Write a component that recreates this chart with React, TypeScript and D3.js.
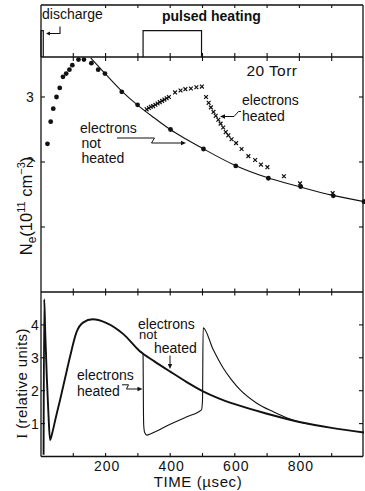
import React from 'react';
import * as d3 from 'd3';

// ---- data ----
const TIME_TICKS = [100, 200, 300, 400, 500, 600, 700, 800, 900];
const TIME_LABELS = [200, 400, 600, 800];
const TOP_BORDER_TICKS = [200, 300, 400, 500, 600, 700, 800, 900];
const NE_TICKS = [1, 2, 3];
const NE_LABELS = [2, 3];
const I_TICKS = [1, 2, 3, 4];

// timing diagram (time in µs, level 0/1)
const DISCHARGE_PULSE: [number, number][] = [[0, 0], [0, 1], [7, 1], [7, 0]];
const HEATING_PULSE: [number, number][] = [[316, 0], [316, 1], [497, 1], [497, 0]];

// Ne (1e11 cm^-3), electrons not heated (dots)
const NE_NOT_HEATED_DOTS: [number, number][] = [
  [20, 2.28], [30, 2.62], [38, 2.82], [48, 3.0], [58, 3.14], [68, 3.31], [78, 3.36],
  [88, 3.42], [97, 3.49], [116, 3.575], [133, 3.575], [156, 3.52], [177, 3.42],
  [198, 3.36], [250, 3.08], [299, 2.88], [401, 2.5], [503, 2.2], [603, 1.94],
  [704, 1.75], [804, 1.62], [905, 1.48], [1000, 1.39],
];
// fitted decay curve
const NE_FIT: [number, number][] = [
  [154, 3.6], [200, 3.35], [250, 3.09], [300, 2.87], [350, 2.68], [400, 2.5],
  [450, 2.35], [500, 2.21], [600, 1.95], [700, 1.76], [800, 1.62], [900, 1.49], [1000, 1.39],
];
// Ne, electrons heated (crosses)
const NE_HEATED_CROSSES: [number, number][] = [
  [327, 2.81], [334, 2.83], [340, 2.85], [347, 2.86], [354, 2.88], [361, 2.9],
  [368, 2.92], [375, 2.94], [382, 2.96], [389, 2.98], [396, 3.0],
  [415, 3.07], [432, 3.1], [447, 3.12], [464, 3.13], [481, 3.15], [498, 3.16],
  [511, 3.0], [519, 2.91], [526, 2.84], [534, 2.77], [541, 2.71], [549, 2.65],
  [556, 2.59], [564, 2.53], [572, 2.46], [580, 2.41], [590, 2.35], [604, 2.29],
  [621, 2.2], [642, 2.09], [663, 2.03], [681, 1.96], [701, 1.92], [752, 1.78],
  [802, 1.67], [903, 1.52],
];

// I (relative units), electrons not heated (thick)
const I_NOT_HEATED: [number, number][] = [
  [8, 0.05], [10, 4.78], [13, 3.8], [18, 2.4], [23, 1.3], [28, 0.5], [35, 0.72],
  [45, 1.15], [59, 1.72], [75, 2.4], [90, 3.04], [110, 3.78], [130, 4.07],
  [160, 4.17], [200, 4.07], [255, 3.72], [306, 3.2], [350, 2.9], [400, 2.58],
  [450, 2.27], [500, 1.99], [550, 1.77], [600, 1.59], [700, 1.3], [800, 1.05],
  [900, 0.87], [1000, 0.73],
];
// I, electrons heated (thin) — branch that departs at pulse on
const I_HEATED: [number, number][] = [
  [306, 3.2], [316, 3.13], [317, 1.6], [318, 0.95], [321, 0.73], [328, 0.65],
  [340, 0.69], [400, 0.98], [450, 1.2], [490, 1.37], [497, 1.42], [500, 1.7],
  [502, 3.91], [533, 3.25], [564, 2.69], [590, 2.33], [616, 2.03], [668, 1.62],
  [719, 1.36], [771, 1.14], [800, 1.05], [830, 0.99],
];

const FONT = 'Liberation Sans, Arial, Helvetica, sans-serif';
const INK = '#111';

export default function App() {
  const x = d3.scaleLinear().domain([0, 1000]).range([41, 364]);
  const yP = d3.scaleLinear().domain([0, 1]).range([57, 30.7]);
  const yN = d3.scaleLinear().domain([0, 3.615]).range([292, 57]);
  const yI = d3.scaleLinear().domain([0, 5]).range([456.5, 292]);

  const lineP = d3.line<[number, number]>().x(d => x(d[0])).y(d => yP(d[1]));
  const lineN = d3.line<[number, number]>().x(d => x(d[0])).y(d => yN(d[1])).curve(d3.curveMonotoneX);
  const lineI = d3.line<[number, number]>().x(d => x(d[0])).y(d => yI(d[1])).curve(d3.curveMonotoneX);

  const L = 41, R = 363;
  const yTop = 5, yA = 57, yB = 292, yC = 456.5;

  return (
    <svg width={365} height={491} viewBox="0 0 365 491"
      style={{ position: 'absolute', left: 0, top: 0, background: '#fff' }}
      fontFamily={FONT} fill={INK}>
      <rect x={0} y={0} width={365} height={491} fill="#fff" />
      {/* frame */}
      <g stroke={INK} strokeWidth={1.3} fill="none">
        <line x1={L} y1={yTop} x2={L} y2={yC} />
        <line x1={R} y1={yTop} x2={R} y2={yC} />
        <line x1={L} y1={yTop} x2={R} y2={yTop} />
        <line x1={L} y1={yA} x2={R} y2={yA} />
        <line x1={L} y1={yB} x2={R} y2={yB} />
        <line x1={L} y1={yC} x2={R} y2={yC} />
      </g>
      {/* x ticks */}
      <g stroke={INK} strokeWidth={1.1}>
        {TOP_BORDER_TICKS.map(t => <line key={'tt' + t} x1={x(t)} x2={x(t)} y1={yTop} y2={yTop + 3} />)}
        {TIME_TICKS.map(t => <line key={'ta' + t} x1={x(t)} x2={x(t)} y1={yA - 4} y2={yA + 4} />)}
        {TIME_TICKS.map(t => <line key={'tb' + t} x1={x(t)} x2={x(t)} y1={yB - 3.5} y2={yB + 3.5} />)}
        {TIME_TICKS.map(t => <line key={'tc' + t} x1={x(t)} x2={x(t)} y1={yC} y2={yC - 3.5} />)}
        {NE_TICKS.map(v => <line key={'nl' + v} x1={L} x2={L + 4} y1={yN(v)} y2={yN(v)} />)}
        {NE_TICKS.map(v => <line key={'nr' + v} x1={R} x2={R - 4} y1={yN(v)} y2={yN(v)} />)}
        {I_TICKS.map(v => <line key={'il' + v} x1={L} x2={L + 4} y1={yI(v)} y2={yI(v)} />)}
        {I_TICKS.map(v => <line key={'ir' + v} x1={R} x2={R - 4} y1={yI(v)} y2={yI(v)} />)}
      </g>

      {/* timing diagram */}
      <g stroke={INK} strokeWidth={1.2} fill="none">
        <path d={lineP(DISCHARGE_PULSE) || ''} />
        <path d={lineP(HEATING_PULSE) || ''} />
      </g>
      <text x={42} y={19} fontSize={14}>discharge</text>
      <text x={162} y={20.5} fontSize={14} fontWeight="bold">pulsed heating</text>
      <g stroke={INK} strokeWidth={1.1} fill="none">
        <path d="M60,26.5 V33.5 H48" />
      </g>
      <path d="M46,33.5 L50,31.5 L50,35.5 Z" />

      {/* Ne panel */}
      <path d={lineN(NE_FIT) || ''} fill="none" stroke={INK} strokeWidth={1.1} />
      {NE_NOT_HEATED_DOTS.map(([t, v], i) => (
        <circle key={'d' + i} cx={x(t)} cy={yN(v)} r={2.4} fill={INK} />
      ))}
      <g stroke={INK} strokeWidth={1.2}>
        {NE_HEATED_CROSSES.map(([t, v], i) => {
          const cx = x(t), cy = yN(v), s = 1.9;
          return (
            <path key={'c' + i} d={`M${cx - s},${cy - s}L${cx + s},${cy + s}M${cx - s},${cy + s}L${cx + s},${cy - s}`} />
          );
        })}
      </g>
      <text x={246.5} y={76} fontSize={15.5} letterSpacing={0.4}>20 Torr</text>
      <text x={242} y={105} fontSize={14}>electrons</text>
      <text x={242} y={121} fontSize={14}>heated</text>
      <path d="M223,116.5 H234 L238.5,111.5 H241" fill="none" stroke={INK} strokeWidth={1} />
      <path d="M220,116.5 L225,114.3 L225,118.7 Z" />
      <text x={80} y={133} fontSize={14}>electrons</text>
      <text x={81.5} y={147.5} fontSize={14}>not</text>
      <text x={81.5} y={163} fontSize={14}>heated</text>
      <path d="M117,138 H154.5 L151.5,143 H182" fill="none" stroke={INK} strokeWidth={1} />
      <path d="M186,143 L181,140.8 L181,145.2 Z" />

      {/* tick labels, Ne */}
      {NE_LABELS.map(v => (
        <text key={'nlab' + v} x={30} y={yN(v) + 5} fontSize={14} textAnchor="middle">{v}</text>
      ))}
      <text transform="translate(32,206) rotate(-90)" fontSize={16.5} textAnchor="middle">
        N<tspan fontSize={12} dy={4}>e</tspan><tspan dy={-4}>(10</tspan>
        <tspan fontSize={11} dy={-7}>11</tspan><tspan dy={7}> cm</tspan>
        <tspan fontSize={11} dy={-7}>−3</tspan><tspan dy={7}>)</tspan>
      </text>

      {/* I panel */}
      <path d={lineI(I_HEATED) || ''} fill="none" stroke={INK} strokeWidth={1.1} />
      <path d={lineI(I_NOT_HEATED) || ''} fill="none" stroke={INK} strokeWidth={1.9} />
      <text x={138} y={328.5} fontSize={14}>electrons</text>
      <text x={139} y={339} fontSize={13}>not</text>
      <text x={154} y={353} fontSize={14}>heated</text>
      <path d="M170,355.5 V365" fill="none" stroke={INK} strokeWidth={1} />
      <path d="M170,369 L167.8,364 L172.2,364 Z" />
      <text x={77} y={380} fontSize={14}>electrons</text>
      <text x={77} y={396} fontSize={14}>heated</text>
      <path d="M122,384.8 H128.5 L126.5,389 H138" fill="none" stroke={INK} strokeWidth={1} />
      <path d="M142.5,389 L137.5,386.8 L137.5,391.2 Z" />

      {I_TICKS.map(v => (
        <text key={'ilab' + v} x={35} y={yI(v) + 5} fontSize={14} textAnchor="middle">{v}</text>
      ))}
      <text transform="translate(27,383.5) rotate(-90)" fontSize={15} letterSpacing={0.4} textAnchor="middle">
        <tspan fontFamily="Liberation Serif, serif">I</tspan> (relative units)
      </text>

      {/* x labels */}
      {TIME_LABELS.map(t => (
        <text key={'xl' + t} x={x(t) + 1.5} y={471} fontSize={14} letterSpacing={1} textAnchor="middle">{t}</text>
      ))}
      <text x={198} y={486.5} fontSize={15} letterSpacing={0.6} textAnchor="middle">TIME (µsec)</text>
    </svg>
  );
}
